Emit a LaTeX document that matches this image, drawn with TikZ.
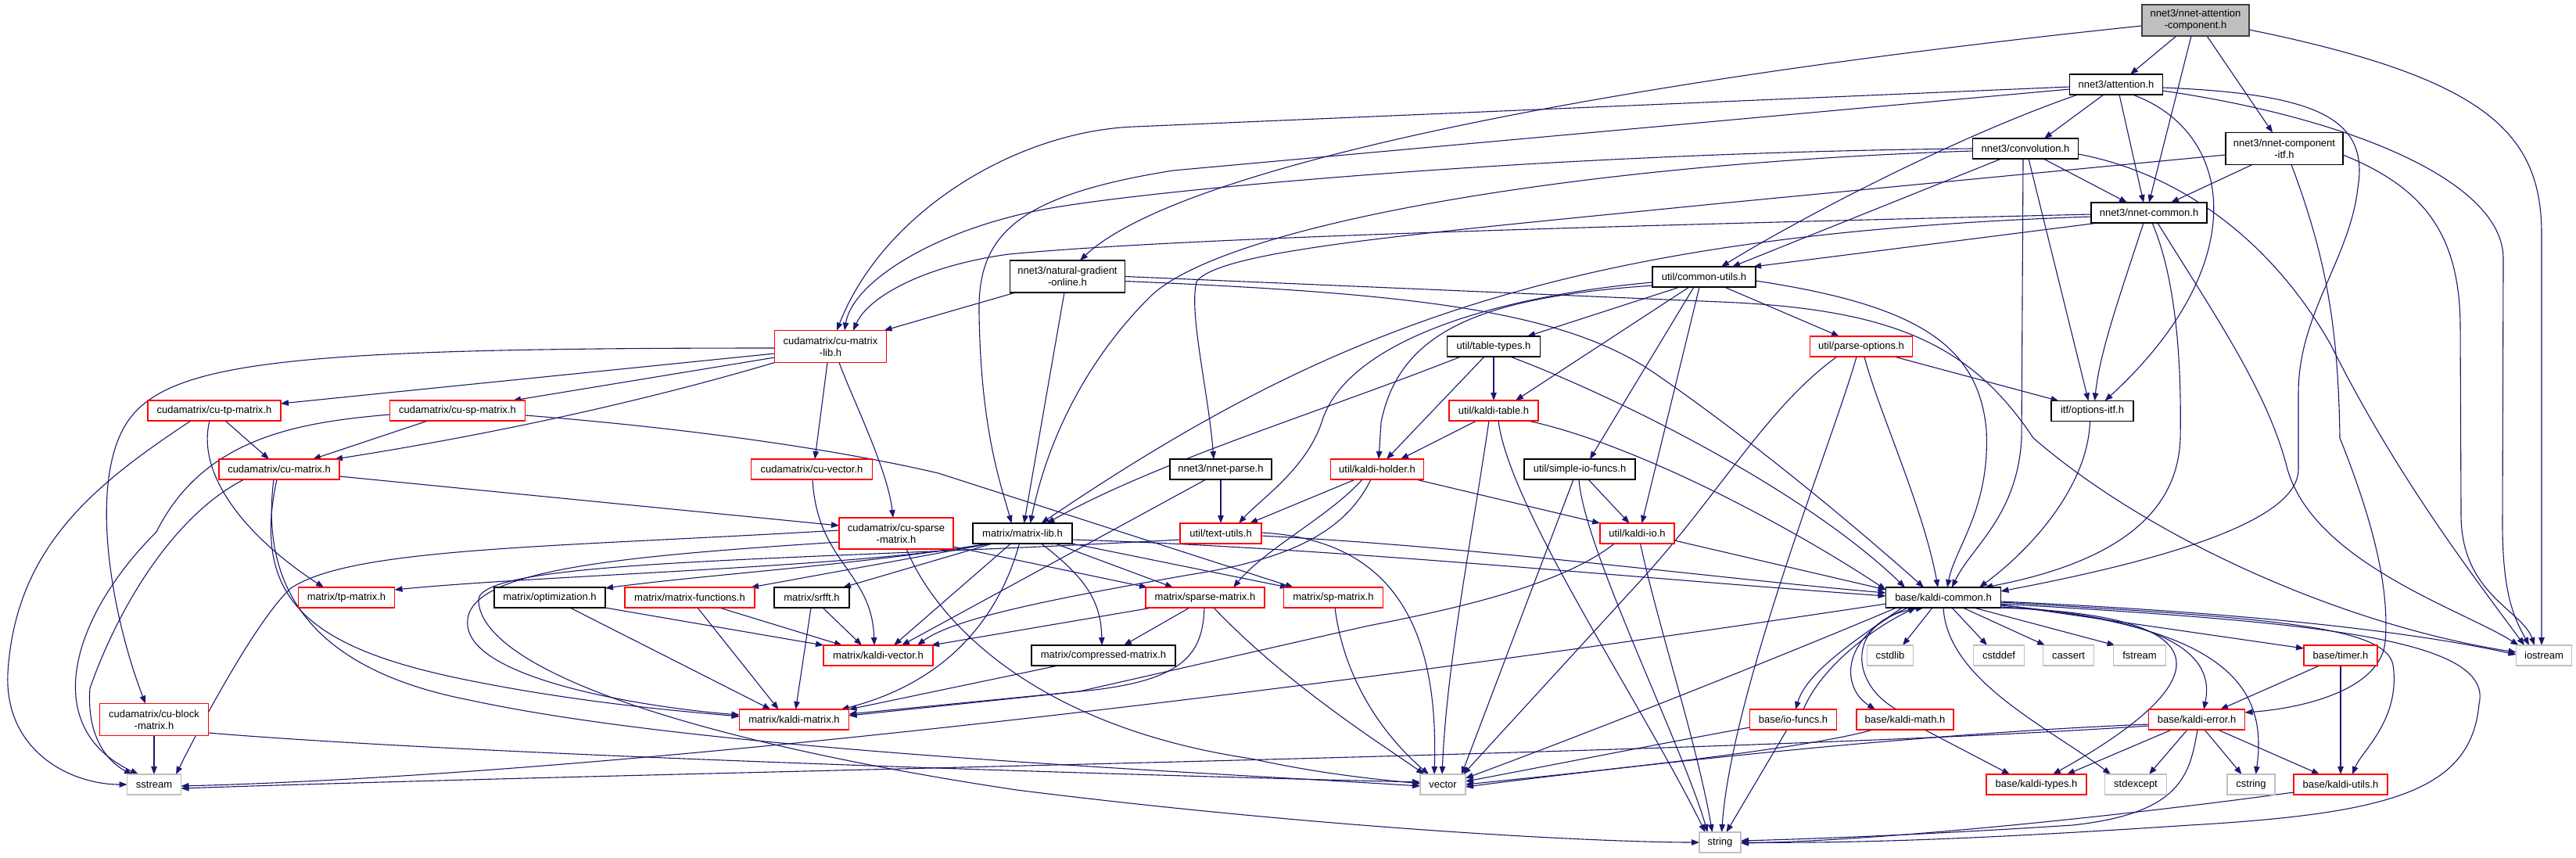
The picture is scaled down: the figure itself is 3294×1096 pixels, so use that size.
\documentclass[tikz,border=0pt]{standalone}
\usepackage{fontspec}
\setmainfont{Liberation Sans}
\usetikzlibrary{arrows.meta}
\definecolor{edgec}{HTML}{191970}
\definecolor{grayb}{HTML}{BFBFBF}
\definecolor{darkb}{HTML}{404040}
\definecolor{redb}{HTML}{FF0000}
\pgfdeclarelayer{bglayer}
\pgfdeclarelayer{edgelayer}
\pgfsetlayers{bglayer,edgelayer,main}
\newcommand\nodefont{\fontsize{13}{15}\selectfont}
\tikzset{
  nb/.style={rectangle, draw=black, line width=1.3pt, fill=white, inner sep=0pt, outer sep=0pt,
             minimum height=26pt, font=\nodefont, align=center, text=black},
  nr/.style={nb, draw=redb},
  ng/.style={nb, draw=grayb},
  nm/.style={nb, draw=darkb, fill=grayb},
  e/.style={draw=edgec, line width=1.1pt, -{Triangle[length=10pt,width=7.5pt]}},
}
\begin{document}
\begin{tikzpicture}[x=1pt,y=-1pt]
\begin{pgfonlayer}{bglayer}
\fill[white] (0,0) rectangle (3294,1096);
\end{pgfonlayer}
\useasboundingbox (0,0) rectangle (3294,1096);

% ---------------- nodes ----------------
\node[nm, minimum width=137pt, minimum height=40pt] (ac) at (2807.5,26) {nnet3/nnet-attention\\-component.h};
\node[nb, minimum width=119pt] (att) at (2706,108) {nnet3/attention.h};
\node[nb, minimum width=135pt] (conv) at (2590,190) {nnet3/convolution.h};
\node[nb, minimum width=150pt, minimum height=41pt] (itf) at (2921,190) {nnet3/nnet-component\\-itf.h};
\node[nb, minimum width=148pt] (ncom) at (2748,272) {nnet3/nnet-common.h};
\node[nb, minimum width=147pt, minimum height=41pt] (ngo) at (1365,353.5) {nnet3/natural-gradient\\-online.h};
\node[nb, minimum width=132pt] (cu) at (2179,354) {util/common-utils.h};
\node[nr, minimum width=143pt, minimum height=41pt] (cml) at (1062,443) {cudamatrix/cu-matrix\\-lib.h};
\node[nb, minimum width=119pt] (tt) at (1910,443) {util/table-types.h};
\node[nr, minimum width=131pt] (po) at (2380,443) {util/parse-options.h};
\node[nr, minimum width=170pt] (ctp) at (274,525) {cudamatrix/cu-tp-matrix.h};
\node[nr, minimum width=173pt] (csp) at (585,525) {cudamatrix/cu-sp-matrix.h};
\node[nr, minimum width=114pt] (kt) at (1910,525) {util/kaldi-table.h};
\node[nb, minimum width=105pt] (oitf) at (2675.5,525.5) {itf/options-itf.h};
\node[nr, minimum width=154pt] (cm) at (357,600) {cudamatrix/cu-matrix.h};
\node[nr, minimum width=155pt] (cv) at (1038,600) {cudamatrix/cu-vector.h};
\node[nb, minimum width=130pt] (np) at (1561,600) {nnet3/nnet-parse.h};
\node[nr, minimum width=119pt] (kh) at (1761,600) {util/kaldi-holder.h};
\node[nb, minimum width=142pt] (sio) at (2020,600) {util/simple-io-funcs.h};
\node[nr, minimum width=146pt, minimum height=40pt] (csm) at (1146,682) {cudamatrix/cu-sparse\\-matrix.h};
\node[nb, minimum width=127pt] (ml) at (1307.5,682) {matrix/matrix-lib.h};
\node[nr, minimum width=104pt] (tu) at (1561,682) {util/text-utils.h};
\node[nr, minimum width=95pt] (kio) at (2093.5,682) {util/kaldi-io.h};
\node[nr, minimum width=123pt] (tp) at (443,764) {matrix/tp-matrix.h};
\node[nb, minimum width=142pt] (opt) at (703,764) {matrix/optimization.h};
\node[nr, minimum width=166pt] (mf) at (882,764) {matrix/matrix-functions.h};
\node[nb, minimum width=96pt] (srf) at (1038,764) {matrix/srfft.h};
\node[nr, minimum width=152pt] (sm) at (1541,764) {matrix/sparse-matrix.h};
\node[nr, minimum width=127pt] (sp) at (1705,764) {matrix/sp-matrix.h};
\node[nb, minimum width=147pt] (kc) at (2485,764) {base/kaldi-common.h};
\node[nr, minimum width=140pt] (kv) at (1123,838) {matrix/kaldi-vector.h};
\node[nb, minimum width=184pt] (cmp) at (1411,838) {matrix/compressed-matrix.h};
\node[ng, minimum width=59pt] (cstdlib) at (2417,838) {cstdlib};
\node[ng, minimum width=65pt] (cstddef) at (2556,838) {cstddef};
\node[ng, minimum width=65pt] (cassert) at (2645,838) {cassert};
\node[ng, minimum width=67pt] (fstream) at (2736,838) {fstream};
\node[nr, minimum width=94pt] (timer) at (2993,838) {base/timer.h};
\node[ng, minimum width=71pt] (iostream) at (3253,838) {iostream};
\node[nr, minimum width=139pt, minimum height=41pt] (cbm) at (197,920) {cudamatrix/cu-block\\-matrix.h};
\node[nr, minimum width=140pt] (km) at (1015.5,920) {matrix/kaldi-matrix.h};
\node[nr, minimum width=111pt] (iof) at (2293,920) {base/io-funcs.h};
\node[nr, minimum width=124pt] (kmath) at (2436,920) {base/kaldi-math.h};
\node[nr, minimum width=123pt] (kerr) at (2809,920) {base/kaldi-error.h};
\node[ng, minimum width=69pt] (sstream) at (197,1003) {sstream};
\node[ng, minimum width=58pt] (vector) at (1845,1003) {vector};
\node[nr, minimum width=128pt] (ktypes) at (2604,1003) {base/kaldi-types.h};
\node[ng, minimum width=79pt] (stdexcept) at (2731,1003) {stdexcept};
\node[ng, minimum width=61pt] (cstring) at (2878.5,1003) {cstring};
\node[nr, minimum width=120pt] (kutils) at (2993,1003) {base/kaldi-utils.h};
\node[ng, minimum width=53pt] (string) at (2199.5,1077) {string};

% ---------------- edges ----------------
\begin{pgfonlayer}{edgelayer}
% nnet-attention-component
\draw[e] ([yshift=-7pt]ac.west) .. controls (2000,110) and (1500,220) .. ([xshift=16pt]ngo.north);
\draw[e] ([xshift=-24.5pt]ac.south) -- ([xshift=18pt]att.north);
\draw[e] ([xshift=-5.5pt]ac.south) -- (ncom.north);
\draw[e] ([xshift=14.5pt]ac.south) -- ([xshift=-15pt]itf.north);
\draw[e] ([yshift=-12pt]ac.east) .. controls (3180,100) and (3250,170) .. (3250,300) -- ([xshift=-3pt]iostream.north);
% attention
\draw[e] ([yshift=-3pt]att.west) -- (1450,162) .. controls (1300,168) and (1130,270) .. ([xshift=8pt]cml.north);
\draw[e] ([yshift=-6pt]att.west) -- (1500,218) .. controls (1300,250) and (1250,300) .. (1252,400) .. controls (1254,550) and (1280,620) .. ([xshift=-14pt]ml.north);
\draw[e] ([xshift=-49pt]att.south) .. controls (2500,175) and (2300,280) .. ([xshift=22pt]cu.north);
\draw[e] ([xshift=-16pt]att.south) -- ([xshift=24pt]conv.north);
\draw[e] ([xshift=4pt]att.south) -- ([xshift=-7pt]ncom.north);
\draw[e] ([xshift=21pt]att.south) .. controls (2860,170) and (2880,340) .. ([xshift=16pt]oitf.north);
\draw[e] ([yshift=-4pt]att.east) .. controls (2960,120) and (3030,150) .. (3015,240) .. controls (3005,330) and (2940,400) .. (2939,500) -- (2939,600) .. controls (2939,660) and (2800,710) .. ([yshift=-5pt]kc.north east);
\draw[e] ([yshift=-8pt]att.east) .. controls (3000,150) and (3200,230) .. (3201,330) -- (3200,660) .. controls (3199,760) and (3215,790) .. ([xshift=-19pt]iostream.north);
% convolution
\draw[e] (conv.west) .. controls (2000,195) and (1500,240) .. (1350,265) .. controls (1200,290) and (1090,360) .. ([xshift=18pt]cml.north);
\draw[e] ([yshift=-3pt]conv.west) .. controls (2000,210) and (1560,290) .. (1470,380) .. controls (1390,460) and (1340,560) .. ([xshift=10pt]ml.north);
\draw[e] ([xshift=-31pt]conv.south) -- ([xshift=36pt]cu.north);
\draw[e] ([xshift=-3pt]conv.south) -- (2585,560) .. controls (2580,660) and (2520,700) .. ([xshift=11pt]kc.north);
\draw[e] ([xshift=4pt]conv.south) -- ([xshift=-5pt]oitf.north);
\draw[e] ([xshift=23pt]conv.south) -- ([xshift=-28pt]ncom.north);
\draw[e] ([yshift=-7pt]conv.east) .. controls (2780,220) and (2900,300) .. (2980,440) .. controls (3060,600) and (3150,720) .. ([xshift=-25pt]iostream.north);
% nnet-component-itf
\draw[e] ([yshift=-8pt]itf.west) -- (2200,260) .. controls (1800,300) and (1560,320) .. (1530,360) .. controls (1520,400) and (1545,500) .. ([xshift=-9pt]np.north);
\draw[e] ([xshift=-41pt]itf.south) -- ([xshift=28pt]ncom.north);
\draw[e] ([xshift=9pt]itf.south) .. controls (2975,330) and (2990,420) .. (2992,560) .. controls (3040,680) and (3055,760) .. (3050,820) .. controls (3045,880) and (2950,905) .. ([yshift=9pt]kerr.east);
\draw[e] ([yshift=-8pt]itf.east) .. controls (3100,240) and (3146,300) .. (3146,420) -- (3147,660) .. controls (3148,760) and (3225,780) .. ([xshift=-12pt]iostream.north);
% nnet-common
\draw[e] ([yshift=-2pt]ncom.west) .. controls (2000,290) and (1500,305) .. (1290,325) .. controls (1180,340) and (1110,380) .. ([xshift=29pt]cml.north);
\draw[e] ([yshift=-5pt]ncom.west) .. controls (2000,300) and (1700,420) .. ([xshift=24pt]ml.north);
\draw[e] ([xshift=9pt]ncom.south west) -- ([xshift=-3pt]cu.north east);
\draw[e] ([xshift=-7pt]ncom.south) .. controls (2710,380) and (2685,450) .. ([xshift=3pt]oitf.north);
\draw[e] ([xshift=4pt]ncom.south) .. controls (2780,350) and (2790,450) .. (2788,560) .. controls (2785,660) and (2700,720) .. ([xshift=53pt]kc.north);
\draw[e] ([xshift=11pt]ncom.south) .. controls (2830,400) and (2900,500) .. (2925,600) .. controls (2960,720) and (3150,780) .. ([xshift=3pt]iostream.north west);
% natural-gradient-online
\draw[e] ([xshift=7pt]ngo.south west) -- ([xshift=-3pt]cml.north east);
\draw[e] ([xshift=-4pt]ngo.south) -- ([xshift=2pt]ml.north);
\draw[e] ([yshift=-6pt]ngo.east) .. controls (1800,375) and (2000,395) .. (2120,480) .. controls (2250,570) and (2380,680) .. ([xshift=-25pt]kc.north);
\draw[e] (ngo.east) -- (2200,386) .. controls (2420,395) and (2520,440) .. (2600,560) .. controls (2750,690) and (3000,800) .. ([yshift=4pt]iostream.west);
% common-utils
\draw[e] ([xshift=-31pt]cu.south) -- ([xshift=43pt]tt.north);
\draw[e] ([xshift=-19pt]cu.south) -- ([xshift=28pt]kt.north);
\draw[e] ([yshift=-7pt]cu.west) .. controls (1900,380) and (1720,440) .. (1690,540) .. controls (1670,600) and (1610,640) .. ([xshift=23pt]tu.north);
\draw[e] ([yshift=-11pt]cu.west) .. controls (1900,380) and (1790,420) .. (1766,540) -- ([xshift=2pt]kh.north);
\draw[e] ([xshift=-13pt]cu.south) -- ([xshift=13pt]sio.north);
\draw[e] ([xshift=-6pt]cu.south) -- ([xshift=6pt]kio.north);
\draw[e] ([xshift=26pt]cu.south) -- ([xshift=-28pt]po.north);
\draw[e] ([yshift=-5pt]cu.east) .. controls (2450,390) and (2530,440) .. (2540,550) .. controls (2545,650) and (2500,700) .. ([xshift=5pt]kc.north);
% table-types
\draw[e] ([xshift=-42pt]tt.south) .. controls (1680,530) and (1480,590) .. ([xshift=31pt]ml.north);
\draw[e] ([xshift=-12pt]tt.south) -- ([xshift=12pt]kh.north);
\draw[e] (tt) -- (kt);
\draw[e] ([xshift=21pt]tt.south) .. controls (2050,500) and (2300,620) .. ([xshift=-49pt]kc.north);
% kaldi-table
\draw[e] ([xshift=-22pt]kt.south) -- ([xshift=30pt]kh.north);
\draw[e] ([xshift=-6pt]kt.south) .. controls (1880,700) and (1850,850) .. ([xshift=-1pt]vector.north);
\draw[e] ([xshift=6pt]kt.south) .. controls (1930,650) and (2100,900) .. ([xshift=-19pt]string.north);
\draw[e] ([xshift=44pt]kt.south) .. controls (2100,570) and (2300,680) .. ([yshift=-3pt]kc.north west);
% parse-options
\draw[e] ([xshift=-31pt]po.south) .. controls (2260,520) and (2200,630) .. (2100,740) -- ([xshift=-3pt]vector.north east);
\draw[e] ([xshift=-6pt]po.south) .. controls (2345,560) and (2215,880) .. ([xshift=2pt]string.north);
\draw[e] ([xshift=4pt]po.south) .. controls (2400,520) and (2460,650) .. ([xshift=-7pt]kc.north);
\draw[e] ([xshift=42pt]po.south) -- ([xshift=-43pt]oitf.north);
% options-itf
\draw[e] ([xshift=-3pt]oitf.south) .. controls (2670,620) and (2600,700) .. ([xshift=46pt]kc.north);
% cu-matrix-lib
\draw[e] ([yshift=-2pt]cml.west) .. controls (400,445) and (230,460) .. (170,530) .. controls (110,600) and (140,780) .. ([xshift=-11pt]cbm.north);
\draw[e] ([yshift=-9pt]cml.west) -- ([yshift=9pt]ctp.east);
\draw[e] ([yshift=-14pt]cml.west) -- ([xshift=71pt]csp.north);
\draw[e] (cml.south west) .. controls (800,520) and (600,560) .. ([xshift=71pt]cm.north);
\draw[e] ([xshift=-4pt]cml.south) -- ([xshift=4pt]cv.north);
\draw[e] ([xshift=11pt]cml.south) .. controls (1090,510) and (1135,600) .. ([xshift=-4pt]csm.north);
% cu-tp-matrix
\draw[e] ([xshift=-30pt]ctp.south) .. controls (120,620) and (20,700) .. (10,860) .. controls (5,960) and (90,1003) .. (sstream.west);
\draw[e] ([xshift=-6pt]ctp.south) .. controls (250,610) and (320,690) .. ([xshift=-29pt]tp.north);
\draw[e] ([xshift=14pt]ctp.south) -- ([xshift=-13pt]cm.north);
% cu-sp-matrix
\draw[e] ([yshift=-5pt]csp.west) .. controls (380,540) and (260,560) .. (200,680) .. controls (90,790) and (50,930) .. ([xshift=-20pt]sstream.north);
\draw[e] ([xshift=-38pt]csp.south) -- ([xshift=43pt]cm.north);
\draw[e] ([yshift=-6pt]csp.east) .. controls (850,545) and (1050,570) .. (1200,605) -- ([xshift=-51pt]sp.north);
% cu-matrix
\draw[e] ([xshift=-45pt]cm.south) .. controls (220,660) and (150,780) .. (115,880) .. controls (110,950) and (145,978) .. ([xshift=-28pt]sstream.north);
\draw[e] ([xshift=-3pt]cm.south) .. controls (320,770) and (400,830) .. (600,870) .. controls (750,900) and (880,910) .. ([yshift=4pt]km.west);
\draw[e] ([xshift=-7pt]cm.south) .. controls (330,770) and (420,860) .. (600,895) .. controls (900,960) and (1500,985) .. ([yshift=-2pt]vector.west);
\draw[e] ([yshift=-9pt]cm.east) -- ([yshift=10pt]csm.west);
% cu-vector
\draw[e] ([xshift=1pt]cv.south) .. controls (1045,720) and (1115,730) .. ([xshift=-5pt]kv.north);
% cu-sparse-matrix
\draw[e] ([yshift=4pt]csm.west) .. controls (700,700) and (450,700) .. (372,752) .. controls (330,790) and (260,920) .. ([xshift=28pt]sstream.north);
\draw[e] ([yshift=-11pt]csm.west) .. controls (780,712) and (590,730) .. (598,800) .. controls (605,870) and (830,905) .. ([yshift=6pt]km.west);
\draw[e] ([xshift=13pt]csm.south) .. controls (1200,800) and (1330,930) .. (1600,970) .. controls (1700,992) and (1780,998) .. ([yshift=1pt]vector.west);
\draw[e] ([yshift=-17pt]csm.east) -- ([xshift=-74pt]sm.north);
% matrix-lib
\draw[e] ([yshift=-8pt]ml.east) .. controls (1700,700) and (2100,740) .. ([yshift=2pt]kc.west);
\draw[e] ([xshift=22pt]ml.south west) .. controls (1100,725) and (700,735) .. ([yshift=10pt]tp.east);
\draw[e] ([xshift=20pt]ml.south west) .. controls (1100,722) and (900,735) .. ([yshift=12pt]opt.east);
\draw[e] ([xshift=23pt]ml.south west) -- ([xshift=-5pt]mf.north east);
\draw[e] ([xshift=25pt]ml.south west) -- ([xshift=40pt]srf.north);
\draw[e] ([xshift=-15pt]ml.south) -- ([xshift=20pt]kv.north);
\draw[e] ([xshift=-4pt]ml.south) .. controls (1280,780) and (1220,870) .. ([xshift=60pt]km.north);
\draw[e] ([xshift=24pt]ml.south) .. controls (1390,740) and (1408,770) .. ([xshift=-2pt]cmp.north);
\draw[e] ([xshift=42pt]ml.south) -- ([xshift=-41pt]sm.north);
\draw[e] (ml.south east) -- ([xshift=-58pt]sp.north);
% text-utils
\draw[e] ([yshift=-3pt]tu.east) .. controls (1900,700) and (2200,740) .. ([yshift=6pt]kc.west);
\draw[e] ([yshift=1pt]tu.east) .. controls (1780,690) and (1840,800) .. ([xshift=-11pt]vector.north);
\draw[e] ([yshift=-8pt]tu.west) .. controls (1000,718) and (600,715) .. (612,770) .. controls (620,860) and (900,950) .. (1300,1010) .. controls (1700,1060) and (2050,1077) .. (string.west);
% kaldi-holder
\draw[e] ([xshift=-28pt]kh.south) -- ([xshift=37pt]tu.north);
\draw[e] ([xshift=-19pt]kh.south) .. controls (1700,660) and (1620,700) .. ([xshift=36pt]sm.north);
\draw[e] ([xshift=-8pt]kh.south) .. controls (1720,680) and (1650,715) .. (1520,735) .. controls (1350,765) and (1220,790) .. ([xshift=50pt]kv.north);
\draw[e] ([xshift=-10pt]kh.south east) -- (kio.north west);
% simple-io-funcs
\draw[e] ([xshift=-8pt]sio.south) -- ([xshift=-5pt]vector.north east);
\draw[e] ([xshift=-1pt]sio.south) .. controls (2025,700) and (2150,950) .. ([xshift=-16pt]string.north);
\draw[e] ([xshift=11pt]sio.south) -- ([xshift=-10pt]kio.north);
% kaldi-io
\draw[e] ([xshift=-29pt]kio.south) .. controls (2000,745) and (1880,775) .. (1750,800) -- (1380,884) -- ([yshift=7pt]km.east);
\draw[e] ([xshift=4pt]kio.south) .. controls (2120,800) and (2170,950) .. ([xshift=-10pt]string.north);
\draw[e] ([yshift=-9pt]kio.east) -- ([yshift=10pt]kc.west);
% nnet-parse
\draw[e] ([xshift=-19pt]np.south) -- ([xshift=30pt]kv.north);
\draw[e] (np) -- (tu);
% sparse-matrix
\draw[e] ([xshift=8pt]sm.south west) -- ([xshift=-2pt]kv.north east);
\draw[e] ([xshift=-20pt]sm.south) -- ([xshift=26pt]cmp.north);
\draw[e] ([xshift=-1pt]sm.south) .. controls (1538,835) and (1515,868) .. (1400,882) -- ([yshift=5pt]km.east);
\draw[e] ([xshift=11pt]sm.south) .. controls (1650,880) and (1780,960) .. ([xshift=-24pt]vector.north);
% sp-matrix
\draw[e] ([xshift=2pt]sp.south) .. controls (1720,880) and (1780,950) .. ([xshift=-18pt]vector.north);
% compressed-matrix
\draw[e] ([xshift=-58pt]cmp.south) -- (km.north east);
% optimization
\draw[e] ([xshift=26pt]opt.south) -- ([xshift=-30pt]km.north);
\draw[e] (opt.south east) -- (kv.north west);
% matrix-functions
\draw[e] ([xshift=10pt]mf.south) -- ([xshift=-20pt]km.north);
\draw[e] ([xshift=38pt]mf.south) -- ([xshift=-46pt]kv.north);
% srfft
\draw[e] ([xshift=-1pt]srf.south) -- ([xshift=2pt]km.north);
\draw[e] ([xshift=14pt]srf.south) -- ([xshift=-21pt]kv.north);
% cu-block-matrix
\draw[e] (cbm) -- (sstream);
\draw[e] ([yshift=-17pt]cbm.east) .. controls (600,965) and (1400,990) .. ([yshift=3pt]vector.west);
% kaldi-common
\draw[e] ([yshift=-8pt]kc.west) .. controls (1700,880) and (800,990) .. ([yshift=-2pt]sstream.east);
\draw[e] ([xshift=-60pt]kc.south) .. controls (2300,830) and (2050,930) .. ([yshift=8pt]vector.east);
\draw[e] ([xshift=-14pt]kc.south) -- ([xshift=16pt]cstdlib.north);
\draw[e] ([xshift=11pt]kc.south) -- ([xshift=-15pt]cstddef.north);
\draw[e] ([xshift=25pt]kc.south) -- ([xshift=-30pt]cassert.north);
\draw[e] ([xshift=39pt]kc.south) -- ([xshift=2pt]fstream.north west);
\draw[e] ([yshift=-9pt]kc.east) -- ([yshift=9pt]timer.west);
\draw[e] ([yshift=-5pt]kc.east) .. controls (2800,780) and (3050,800) .. ([yshift=1pt]iostream.west);
\draw[e] ([yshift=-6pt]kc.east) .. controls (2900,790) and (3050,800) .. (3060,850) .. controls (3070,920) and (3020,960) .. ([xshift=15pt]kutils.north);
\draw[e] ([yshift=-8pt]kc.east) .. controls (2950,795) and (3190,815) .. (3170,900) .. controls (3160,1010) and (3060,1040) .. (2800,1055) .. controls (2500,1075) and (2350,1078) .. (string.east);
\draw[e] ([yshift=-10pt]kc.east) .. controls (2850,800) and (2900,880) .. ([xshift=6pt]cstring.north);
\draw[e] ([yshift=-12pt]kc.east) .. controls (2800,790) and (2830,850) .. ([xshift=9pt]kerr.north);
\draw[e] ([xshift=-5pt]kc.south east) .. controls (2850,785) and (2840,870) .. ([xshift=21pt]ktypes.north);
\draw[e] (kc.south) .. controls (2490,870) and (2620,930) .. ([xshift=-32pt]stdexcept.north);
\draw[e] ([xshift=-53pt]kc.south) .. controls (2370,820) and (2310,860) .. ([xshift=3pt]iof.north);
\draw[e] ([xshift=-45pt]kc.south) .. controls (2350,815) and (2355,880) .. ([xshift=-38pt]kmath.north);
% io-funcs
\draw[e] ([xshift=13pt]iof.north) .. controls (2330,850) and (2400,800) .. ([xshift=-35pt]kc.south);
\draw[e] ([yshift=-10pt]iof.west) .. controls (2100,955) and (1950,985) .. ([yshift=4pt]vector.east);
\draw[e] ([xshift=-8pt]iof.south) -- ([xshift=8pt]string.north);
% kaldi-math
\draw[e] ([xshift=-11pt]kmath.north) .. controls (2360,870) and (2365,790) .. ([xshift=-25pt]kc.south);
\draw[e] ([xshift=25pt]kmath.south) -- ([xshift=-34pt]ktypes.north);
\draw[e] ([xshift=-41pt]kmath.south) .. controls (2300,960) and (2000,990) .. (vector.east);
% kaldi-error
\draw[e] ([xshift=-32pt]kerr.south) -- ([xshift=39pt]ktypes.north);
\draw[e] ([xshift=-12pt]kerr.south) -- ([xshift=17pt]stdexcept.north);
\draw[e] ([xshift=10pt]kerr.south) -- ([xshift=-12pt]cstring.north);
\draw[e] ([xshift=27pt]kerr.south) -- ([xshift=-27pt]kutils.north);
\draw[e] ([xshift=1pt]kerr.south) .. controls (2800,990) and (2790,1040) .. (2650,1055) .. controls (2450,1068) and (2300,1073) .. ([yshift=2pt]string.east);
\draw[e] ([yshift=-6pt]kerr.west) .. controls (2400,940) and (2000,990) .. ([yshift=-3pt]vector.east);
\draw[e] ([yshift=-8pt]kerr.west) .. controls (2200,965) and (900,985) .. ([yshift=-5pt]sstream.east);
% timer
\draw[e] ([xshift=-27pt]timer.south) -- ([xshift=30pt]kerr.north);
\draw[e] (timer) -- (kutils);
% kaldi-utils
\draw[e] ([yshift=-10pt]kutils.west) .. controls (2700,1045) and (2400,1075) .. ([yshift=-1pt]string.east);
\end{pgfonlayer}
\end{tikzpicture}
\end{document}
